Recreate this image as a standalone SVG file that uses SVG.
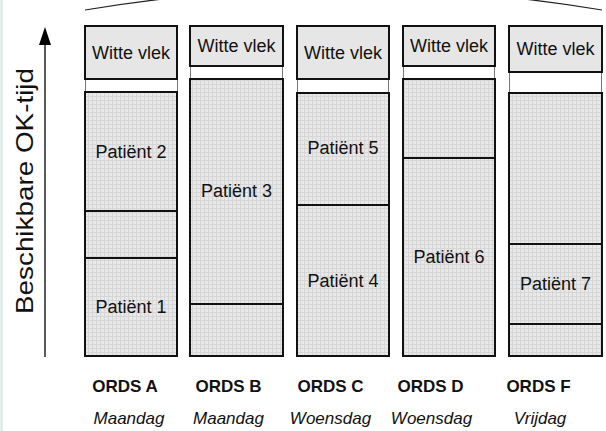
<svg xmlns="http://www.w3.org/2000/svg" width="606" height="431" viewBox="0 0 606 431">
<style>
text{font-family:"Liberation Sans",Arial,sans-serif;fill:#111}
.wv{font-size:18px;text-anchor:middle}
.pt{font-size:18px;text-anchor:middle}
.ords{font-size:17px;font-weight:bold;text-anchor:middle}
.day{font-size:17px;font-style:italic;text-anchor:middle}
.box{fill:#e6e6e6;stroke:#111;stroke-width:2}
.grid{fill:url(#grid);stroke:#111;stroke-width:2}
.div{stroke:#111;stroke-width:2;fill:none}
.side{stroke:#777;stroke-width:1;fill:none}
</style>
<defs>
<pattern id="grid" width="4" height="4" patternUnits="userSpaceOnUse">
<rect width="4" height="4" fill="#e8e8e8"/>
<path d="M0 0.5H4M0.5 0V4" stroke="#d6d6d6" stroke-width="1"/>
</pattern>
</defs>
<rect width="606" height="431" fill="#fff"/>
<line x1="1.5" y1="0" x2="1.5" y2="431" stroke="#d9ece9" stroke-width="2.5"/>
<g id="axis">
<line x1="45" y1="357" x2="45" y2="45" stroke="#000" stroke-width="1.3"/>
<path d="M39 45L45 27L51 45Z" fill="#000"/>
<text transform="translate(33,191) rotate(-90)" font-size="24" text-anchor="middle" textLength="246" lengthAdjust="spacingAndGlyphs">Beschikbare OK-tijd</text>
</g>
<g id="connectors">
<path d="M85 10Q343.5 -33 602 10" fill="none" stroke="#222" stroke-width="1.2"/>
</g>
<g id="colA">
<path class="side" d="M85.5 79V92M177.5 79V92"/>
<rect class="box" x="85" y="26" width="92" height="53"/>
<text class="wv" x="131" y="59">Witte vlek</text>
<rect class="grid" x="85" y="92" width="92" height="264"/>
<line class="div" x1="85" y1="211" x2="177" y2="211"/>
<line class="div" x1="85" y1="258" x2="177" y2="258"/>
<text class="pt" x="131" y="158">Patiënt 2</text>
<text class="pt" x="131" y="313">Patiënt 1</text>
</g>
<g id="colB">
<path class="side" d="M190.5 66V79M282.5 66V79"/>
<rect class="box" x="190" y="26" width="93" height="40"/>
<text class="wv" x="236.5" y="52">Witte vlek</text>
<rect class="grid" x="190" y="79" width="93" height="277"/>
<line class="div" x1="190" y1="304" x2="283" y2="304"/>
<text class="pt" x="236.5" y="197">Patiënt 3</text>
</g>
<g id="colC">
<path class="side" d="M297.5 79V93M388.5 79V93"/>
<rect class="box" x="297" y="26" width="92" height="53"/>
<text class="wv" x="343" y="59">Witte vlek</text>
<rect class="grid" x="297" y="93" width="92" height="263"/>
<line class="div" x1="297" y1="205" x2="389" y2="205"/>
<text class="pt" x="343" y="154">Patiënt 5</text>
<text class="pt" x="343" y="287">Patiënt 4</text>
</g>
<g id="colD">
<path class="side" d="M403.5 66V79M494.5 66V79"/>
<rect class="box" x="403" y="26" width="92" height="40"/>
<text class="wv" x="449" y="52">Witte vlek</text>
<rect class="grid" x="403" y="79" width="92" height="277"/>
<line class="div" x1="403" y1="158" x2="495" y2="158"/>
<text class="pt" x="449" y="263">Patiënt 6</text>
</g>
<g id="colF">
<path class="side" d="M509.5 72V93M601.5 72V93"/>
<rect class="box" x="509" y="26" width="93" height="46"/>
<text class="wv" x="555.5" y="55">Witte vlek</text>
<rect class="grid" x="509" y="93" width="93" height="263"/>
<line class="div" x1="509" y1="244" x2="602" y2="244"/>
<line class="div" x1="509" y1="324" x2="602" y2="324"/>
<text class="pt" x="555.5" y="290">Patiënt 7</text>
</g>
<g id="labels">
<text class="ords" x="125" y="392">ORDS A</text>
<text class="ords" x="228.5" y="392">ORDS B</text>
<text class="ords" x="330.5" y="392">ORDS C</text>
<text class="ords" x="430.5" y="392">ORDS D</text>
<text class="ords" x="538.5" y="392">ORDS F</text>
<text class="day" x="129" y="424">Maandag</text>
<text class="day" x="228.5" y="424">Maandag</text>
<text class="day" x="330.5" y="424">Woensdag</text>
<text class="day" x="431.5" y="424">Woensdag</text>
<text class="day" x="540" y="424">Vrijdag</text>
</g>
</svg>
